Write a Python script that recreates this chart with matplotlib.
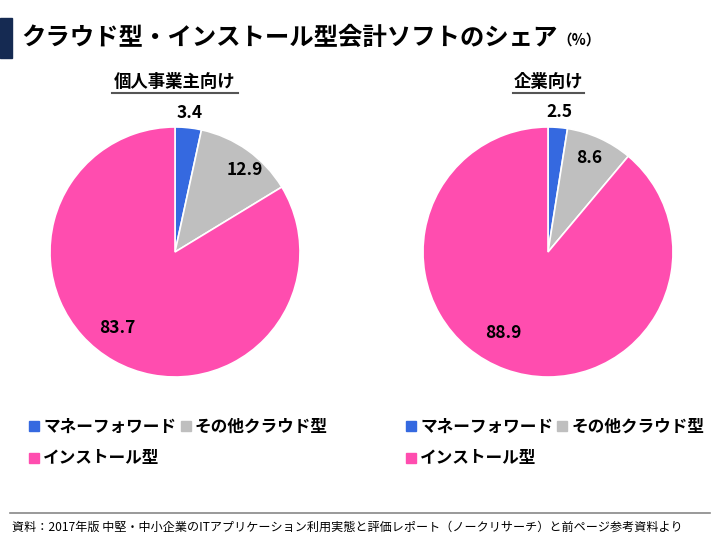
import numpy as np
import matplotlib
matplotlib.use('Agg')
import matplotlib.pyplot as plt
from matplotlib.lines import Line2D
from matplotlib.patches import Rectangle

plt.rcParams['font.family'] = ['Noto Sans CJK JP', 'DejaVu Sans']

categories = ['マネーフォワード', 'その他クラウド型', 'インストール型']
colors = ['#3569e0', '#bfbfbf', '#ff4daf']
personal = [3.4, 12.9, 83.7]
corporate = [2.5, 8.6, 88.9]
panel_titles = ['個人事業主向け', '企業向け']
# label placement: (radius fraction, angle shift in degrees) per slice
label_pos = [[(1.12, 0), (0.86, -5), (0.76, -8)],
             [(1.12, 0), (0.82, 1), (0.74, -9)]]

fig = plt.figure(figsize=(7.2, 5.4), dpi=100)

# title block
fig.patches.append(Rectangle((0, 1 - 58 / 540), 12 / 720, 40 / 540,
                             transform=fig.transFigure, color='#152a52'))
fig.text(21 / 720, 1 - 38 / 540, 'クラウド型・インストール型会計ソフトのシェア',
         fontsize=17.6, fontweight='bold', va='center', ha='left')
fig.text(557 / 720, 1 - 40 / 540, '（%）', fontsize=10.5, fontweight='bold',
         va='center', ha='left')


def draw_pie(left, values, pos):
    ax = fig.add_axes([left / 720, 1 - 377 / 540, 250 / 720, 250 / 540])
    ax.pie(values, colors=colors, startangle=90, counterclock=False,
           wedgeprops=dict(edgecolor='white', linewidth=1.2))
    cum = 0
    for v, (r, shift) in zip(values, pos):
        mid = np.deg2rad(90 - (cum + v / 2) * 3.6 + shift)
        cum += v
        ax.text(r * np.cos(mid), r * np.sin(mid), f'{v:.1f}', ha='center',
                va='center', fontsize=12.5, fontweight='bold')
    ax.set_xlim(-1, 1)
    ax.set_ylim(-1, 1)
    ax.set_aspect('equal')
    return ax


ax1 = draw_pie(50, personal, label_pos[0])
ax2 = draw_pie(423, corporate, label_pos[1])

# panel titles with underline
for x, title, w in [(175, panel_titles[0], 126), (548, panel_titles[1], 71)]:
    fig.text(x / 720, 1 - 82 / 540, title, fontsize=12.5, fontweight='bold',
             ha='center', va='center')
    fig.add_artist(Line2D([(x - w / 2) / 720, (x + w / 2) / 720],
                          [1 - 93 / 540, 1 - 93 / 540], color='#555555',
                          linewidth=1.5, transform=fig.transFigure))

# legends
handles = [Line2D([], [], marker='s', linestyle='', markersize=6.5,
                  markerfacecolor=c, markeredgecolor=c) for c in colors]
order = [0, 2, 1]
for lx in [15, 392]:
    fig.legend([handles[i] for i in order], [categories[i] for i in order],
               loc='upper left', bbox_to_anchor=(lx / 720, 1 - 403 / 540),
               ncol=2, frameon=False, handlelength=0.5, handletextpad=0.3,
               columnspacing=0.3, labelspacing=0.8,
               prop=dict(size=12, weight='bold'))

# footer
fig.add_artist(Line2D([10 / 720, 710 / 720], [1 - 513 / 540, 1 - 513 / 540],
                      color='#888888', linewidth=1.2, transform=fig.transFigure))
fig.text(12 / 720, 1 - 527 / 540,
         '資料：2017年版 中堅・中小企業のITアプリケーション利用実態と評価レポート（ノークリサーチ）と前ページ参考資料より',
         fontsize=8.7, ha='left', va='center')

fig.savefig('out.png', dpi=100)
